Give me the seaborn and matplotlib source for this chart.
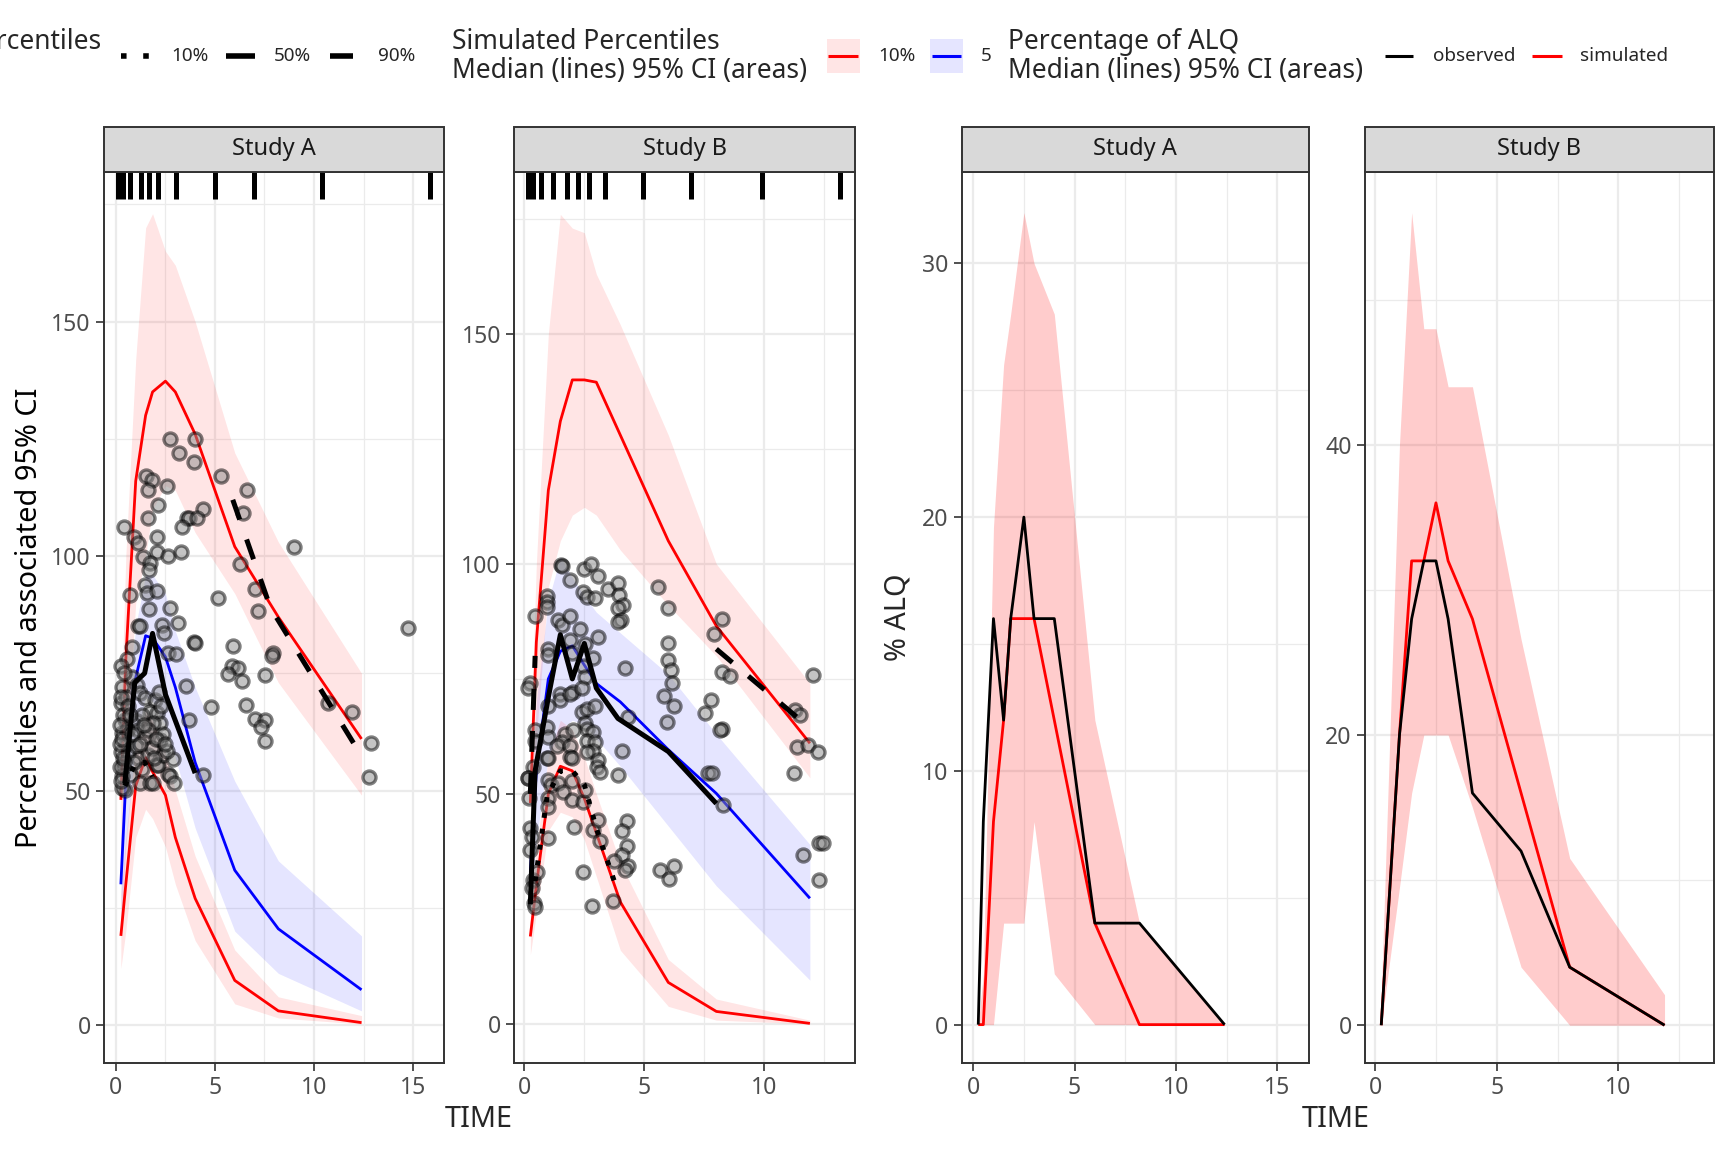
import numpy as np
import pandas as pd
import matplotlib
matplotlib.use("Agg")
import matplotlib.pyplot as plt
import seaborn as sns
from matplotlib.ticker import FixedLocator
from matplotlib.patches import Rectangle
from matplotlib.lines import Line2D

sns.set_theme(style="ticks")
plt.rcParams['font.family'] = ['Noto Sans', 'DejaVu Sans']

# ---------------- Study A : VPC ----------------
tA = [0.25, 0.5, 1.0, 1.5, 1.85, 2.5, 3.0, 4.0, 6.0, 8.2, 12.4]
A_p90_med = [48, 78, 116, 130, 135, 137.3, 135, 126, 102, 87, 61]
A_p90_lo = [30, 55, 90, 100, 110, 115, 114, 105, 92, 73, 49]
A_p90_hi = [65, 100, 142, 170, 173, 165, 162, 150, 122, 103, 75]
A_p50_med = [30, 52, 74, 83, 82.5, 78.5, 72, 56, 33, 20.5, 7.5]
A_p50_lo = [20, 38, 60, 70, 69, 64, 57, 42, 20, 11, 3]
A_p50_hi = [40, 62, 85, 96, 96, 92, 84, 72, 52, 35, 19]
A_p10_med = [19, 30, 51, 57, 54, 49, 40, 27, 9.5, 3, 0.5]
A_p10_lo = [12, 20, 40, 46, 44, 38, 30, 18, 4.5, 1.5, 0.2]
A_p10_hi = [28, 40, 60, 67, 65, 58, 50, 36, 16, 6, 2]

A_o10_x = [0.45, 0.95, 1.45, 1.85]
A_o10_y = [51, 55.5, 56, 53]
A_o50_x = [0.45, 0.95, 1.45, 1.85, 2.5, 4.0]
A_o50_y = [51.5, 73, 75, 83.5, 70.5, 53.7]
A_o90_x = [5.9, 7.8, 12.45]
A_o90_y = [112, 89, 57]

A_rug = [0.1, 0.37, 0.7, 1.25, 1.67, 2.14, 3.05, 5.02, 6.95, 10.4, 15.87]

A_obs_time = [2.73, 3.99, 3.2, 3.94, 1.51, 1.8, 1.63, 2.6, 5.29, 6.63, 2.1, 4.41, 3.57, 3.7, 4.08,
              3.35, 0.42, 6.43, 1.6, 0.93, 1.13, 2.09, 2.09, 2.61, 3.27, 1.38, 1.72, 1.68, 9.01, 6.26,
              1.46, 1.55, 2.09, 0.71, 7.02, 5.17, 1.68, 2.73, 7.16, 1.13, 1.21, 2.31, 2.44, 3.11, 3.96,
              3.99, 5.89, 7.95, 7.86, 0.83, 0.57, 0.25, 2.61, 3.03, 5.84, 6.18, 5.67, 6.35, 7.52, 3.54,
              0.79, 1.04, 1.21, 1.46, 1.97, 0.25, 4.8, 6.57, 10.72, 11.9, 1.72, 2.05, 2.22, 1.89, 3.7,
              0.45, 1.04, 1.13, 7.02, 7.52, 7.3, 7.52, 12.86, 14.75, 0.29, 1.46, 2.22,
              0.45, 0.29, 0.71, 1.21, 1.72, 1.89, 2.61, 2.73, 2.95, 4.41, 12.78, 2.05, 2.14, 1.1,
              0.6, 0.25, 1.6, 2.4, 2.9, 0.35, 1.3, 0.9, 1.8, 0.5, 1.0, 2.6,
              0.3, 0.35, 0.2, 0.4, 0.3, 0.5, 0.55, 1.6, 2.4, 2.0, 1.3, 2.3,
              0.2, 0.25, 0.3, 0.2, 0.35, 0.25, 0.4, 0.6, 0.7, 0.8, 1.2, 1.4, 1.9, 2.2, 2.5]
A_obs_conc = [125, 125, 122, 120.1, 117.1, 116.2, 114.1, 115, 117, 114.1, 110.9, 110, 108.1, 108.1, 108.1,
              106.1, 106.1, 109.1, 108.1, 104.1, 102.8, 104.1, 100.9, 100, 100.9, 99.8, 98.6, 97, 102, 98.2,
              93.8, 92.2, 92.6, 91.7, 92.9, 91, 88.7, 88.9, 88.2, 85.1, 85, 85.4, 83.5, 85.8, 81.7,
              81.5, 80.9, 79.3, 78.6, 80.5, 78, 76.6, 79.4, 79.1, 76.6, 76.2, 74.8, 73.3, 74.7, 72.3,
              74.3, 72.5, 70.7, 69.7, 69.3, 68.7, 67.8, 68.3, 68.7, 66.7, 66.8, 66.5, 64.3, 64.3, 65,
              65, 64.8, 62.9, 65.2, 65, 63.5, 60.5, 60.1, 84.6, 62.2, 61.5, 60.8,
              50.1, 50.5, 53.3, 51.7, 51.6, 51.6, 53.5, 53.1, 51.6, 53.3, 52.8, 55.4, 55.4, 57,
              58, 58.3, 57.5, 57.5, 56.8, 55, 54.5, 56, 59, 60, 59.5, 58.5,
              72, 66, 60, 56, 53, 70, 63, 63, 62, 61, 66, 68,
              64, 70, 61, 55, 57, 52, 75, 68, 66, 62, 60, 64, 57, 71, 60]

# ---------------- Study B : VPC ----------------
tB = [0.25, 0.5, 1.0, 1.5, 2.0, 2.5, 3.0, 4.0, 6.0, 8.0, 11.9]
B_p90_med = [48, 83, 116, 131, 140, 140, 139.5, 128, 105, 86.5, 61]
B_p90_lo = [35, 62, 95, 105, 110.6, 112.3, 110.6, 103, 91, 80, 53.5]
B_p90_hi = [60, 100, 150, 176, 173, 172, 163, 152, 128, 100, 74]
B_p50_med = [33, 55, 75, 81, 82.2, 78, 74, 70, 59.6, 50.1, 27.3]
B_p50_lo = [25, 40, 58, 64, 66, 65, 62, 56, 43, 30, 9.5]
B_p50_hi = [45, 70, 92, 101.5, 97, 93, 89.5, 85, 76, 63, 39]
B_p10_med = [19, 30, 50, 56, 55, 49, 41.5, 26.5, 9, 2.7, 0.1]
B_p10_lo = [15, 24, 42, 46, 45, 40, 32, 16, 3.8, 0.8, 0]
B_p10_hi = [24, 38, 58, 66, 64, 58, 50, 35, 14, 5.4, 0.8]

B_o10_x = [0.45, 0.95, 1.5, 2.0, 2.5, 3.0, 3.75]
B_o10_y = [31, 49.5, 55, 55, 52, 42.5, 31]
B_o50_x = [0.25, 0.45, 1.0, 1.5, 2.0, 2.5, 3.0, 3.9, 6.0, 8.0]
B_o50_y = [26, 55, 71, 84.6, 75, 82.7, 73, 66.4, 59.2, 47.9]
B_o90_x = [0.25, 0.45, np.nan, 8.0, 11.9]
B_o90_y = [50, 80, np.nan, 81.5, 64.3]

B_rug = [0.17, 0.35, 0.7, 1.21, 1.77, 2.22, 2.7, 3.36, 4.96, 6.96, 9.89, 13.15]

B_obs_time = [1.53, 1.56, 2.5, 2.78, 3.09, 0.93, 0.93, 0.93, 1.9, 2.46, 2.6, 2.95, 3.47, 3.89, 3.95,
              4.13, 3.92, 4.03, 3.92, 5.56, 5.97, 0.45, 1.42, 1.56, 1.9, 2.32, 3.08, 8.22, 7.92,
              1.0, 1.0, 1.9, 2.0, 2.53, 2.86, 2.46, 2.53, 4.2, 6.0, 6.0, 6.11, 6.14, 8.22, 8.57, 12.04,
              0.24, 0.17, 1.49, 1.49, 2.04, 1.9, 2.39, 5.83, 6.25, 7.78, 7.53, 2.39, 2.6, 2.95,
              1.0, 0.93, 5.93, 4.31, 8.22, 8.15, 11.28, 11.49, 2.53, 2.6, 2.88, 0.45, 0.45, 1.0,
              1.7, 2.04, 1.56, 1.35, 1.9, 2.6, 2.95, 2.88, 2.6, 4.06, 7.67, 7.81, 11.35, 11.83, 12.25,
              11.25, 0.93, 1.0, 1.9, 2.0, 3.08, 3.01, 3.92, 0.38, 0.17, 3.15,
              0.17, 0.2, 0.22, 0.3, 0.25, 0.35, 0.3, 0.4, 0.45, 1.0, 1.13, 1.0, 1.0, 1.42, 1.63, 1.97,
              1.97, 2.46, 2.53, 1.0, 0.52, 2.08, 2.88, 3.08, 3.15, 4.26, 4.06, 4.26, 4.06, 3.75, 4.34,
              4.2, 2.46, 2.83, 3.71, 5.65, 6.25, 6.03, 8.29, 12.28, 12.46, 11.63, 12.28]
B_obs_conc = [99.8, 99.5, 98.8, 100, 97.4, 93, 91.8, 90.7, 96.4, 93.8, 92.8, 92.5, 94.6, 95.8, 93.3,
              91.1, 90.4, 87.8, 87.4, 94.9, 90.4, 88.6, 87.8, 86.7, 88.7, 85.8, 84, 88, 84.8,
              81.6, 80.1, 83.5, 80.6, 82.6, 79.5, 77.7, 75.5, 77.3, 82.7, 79, 77, 74.2, 76.6, 75.7, 75.9,
              74, 73, 71.8, 70.4, 72.2, 71.8, 73, 71.2, 69, 70.4, 67.5, 67.7, 68.4, 69,
              69, 64.6, 65.7, 66.8, 64.2, 63.8, 68.2, 67.1, 65.3, 64.2, 63.5, 63.8, 61.6, 62.4,
              63.1, 63.8, 61.3, 60.4, 60.4, 61.6, 61.2, 59.4, 59.1, 59.4, 54.6, 54.6, 60.2, 60.7, 59,
              54.6, 57.7, 57.7, 58.1, 57.7, 57.4, 55.9, 54.1, 55.9, 53.4, 54.7,
              53.4, 49, 42.5, 40.7, 37.8, 31.3, 29.5, 26.2, 25.5, 53, 51.9, 49, 47.2, 52.3, 50.5, 52.7,
              48.7, 48.3, 50.9, 40.4, 33.1, 42.9, 42.2, 44.3, 39.7, 44.1, 42, 38.7, 36.7, 35.3, 34.3,
              33.5, 33.1, 25.7, 26.7, 33.5, 34.3, 31.5, 47.6, 39.3, 39.4, 36.7, 31.2]

# ---------------- % ALQ ----------------
tA_alq = [0.25, 0.5, 1.0, 1.5, 1.85, 2.5, 3.0, 4.0, 6.0, 8.2, 12.4]
A_alq_obs = [0, 8, 16, 12, 16, 20, 16, 16, 4, 4, 0]
A_alq_sim = [0, 0, 8, 12, 16, 16, 16, 12, 4, 0, 0]
A_alq_lo = [0, 0, 0, 4, 4, 4, 8, 2, 0, 0, 0]
A_alq_hi = [0, 2, 19.6, 26, 28, 32, 30, 28, 12, 4, 0]

tB_alq = [0.25, 1.0, 1.5, 2.0, 2.5, 3.0, 4.0, 6.0, 8.0, 11.9]
B_alq_obs = [0, 20, 28, 32, 32, 28, 16, 12, 4, 0]
B_alq_sim = [0, 20, 32, 32, 36, 32, 28, 16, 4, 0]
B_alq_lo = [0, 9.5, 16, 20, 20, 20, 15, 4, 0, 0]
B_alq_hi = [2, 40, 56, 48, 48, 44, 44, 26.6, 11.5, 2.1]

studies = ["Study A", "Study B"]

RED = "#FF0000"
BLUE = "#0000FF"
GRID = "#EBEBEB"
DARK = "#333333"

fig = plt.figure(figsize=(8.64, 5.76), dpi=200)
fig.patch.set_facecolor("white")

bottom, height = 0.0773, 0.7734
ax1 = fig.add_axes([0.0602, bottom, 0.1967, height])
ax2 = fig.add_axes([0.2976, bottom, 0.1972, height])
ax3 = fig.add_axes([0.5565, bottom, 0.2010, height])
ax4 = fig.add_axes([0.7899, bottom, 0.2018, height])

strip_h = 0.0508


def style(ax, xlim, ylim, xmaj, xmin, ymaj, ymin, title):
    ax.set_xlim(*xlim)
    ax.set_ylim(*ylim)
    ax.xaxis.set_major_locator(FixedLocator(xmaj))
    ax.xaxis.set_minor_locator(FixedLocator(xmin))
    ax.yaxis.set_major_locator(FixedLocator(ymaj))
    ax.yaxis.set_minor_locator(FixedLocator(ymin))
    ax.grid(which="major", color=GRID, lw=0.8)
    ax.grid(which="minor", color=GRID, lw=0.45)
    ax.set_axisbelow(True)
    ax.tick_params(which="major", bottom=True, left=True, length=2.75, width=0.6,
                   color=DARK, labelsize=8.3, labelcolor="#4D4D4D", pad=2)
    ax.tick_params(which="minor", length=0)
    for s in ax.spines.values():
        s.set_color(DARK)
        s.set_linewidth(0.7)
        s.set_visible(True)
    ax.set_xlabel("")
    ax.set_ylabel("")
    ax.add_patch(Rectangle((0, 1), 1, strip_h, transform=ax.transAxes, clip_on=False,
                           fc="#D9D9D9", ec=DARK, lw=0.7, zorder=5))
    ax.text(0.5, 1 + strip_h / 2, title, transform=ax.transAxes, ha="center", va="center",
            fontsize=8.5, color="#1A1A1A", zorder=6)


def ribbon(ax, t, lo, hi, color, alpha):
    ax.fill_between(t, lo, hi, color=color, alpha=alpha, lw=0, zorder=1)


def line(ax, x, y, color, lw, ls="-", z=3):
    df = pd.DataFrame({"x": x, "y": y}).dropna()
    sns.lineplot(data=df, x="x", y="y", ax=ax, color=color, lw=lw, linestyle=ls,
                 estimator=None, sort=False, zorder=z, solid_capstyle="butt",
                 dash_capstyle="butt")


def vpc(ax, t, p90, p90lo, p90hi, p50, p50lo, p50hi, p10, p10lo, p10hi,
        ox, oy, o10x, o10y, o50x, o50y, o90x, o90y, rug):
    ribbon(ax, t, p90lo, p90hi, RED, 0.1)
    ribbon(ax, t, p50lo, p50hi, BLUE, 0.1)
    ribbon(ax, t, p10lo, p10hi, RED, 0.1)
    line(ax, t, p90, RED, 1.0)
    line(ax, t, p50, BLUE, 1.0)
    line(ax, t, p10, RED, 1.0)
    sns.scatterplot(x=ox, y=oy, ax=ax, s=22, color="#8a8a8a", edgecolor="#000000",
                    linewidth=1.2, alpha=0.5, zorder=4)
    line(ax, o10x, o10y, "black", 1.8, (0, (1, 2.2)), z=5)
    line(ax, o50x, o50y, "black", 1.8, "-", z=5)
    # observed 90th percentile has missing bins -> separate segments
    x90 = np.array(o90x, dtype=float)
    y90 = np.array(o90y, dtype=float)
    seg = np.cumsum(np.isnan(x90))
    for k in np.unique(seg):
        m = (seg == k) & ~np.isnan(x90)
        if m.sum() > 1:
            line(ax, x90[m], y90[m], "black", 1.8, (0, (4.2, 4.2)), z=5)
    ax.vlines(rug, 0.97, 1.0, transform=ax.get_xaxis_transform(), color="black",
              lw=1.8, zorder=5)


vpc(ax1, tA, A_p90_med, A_p90_lo, A_p90_hi, A_p50_med, A_p50_lo, A_p50_hi,
    A_p10_med, A_p10_lo, A_p10_hi, A_obs_time, A_obs_conc,
    A_o10_x, A_o10_y, A_o50_x, A_o50_y, A_o90_x, A_o90_y, A_rug)
vpc(ax2, tB, B_p90_med, B_p90_lo, B_p90_hi, B_p50_med, B_p50_lo, B_p50_hi,
    B_p10_med, B_p10_lo, B_p10_hi, B_obs_time, B_obs_conc,
    B_o10_x, B_o10_y, B_o50_x, B_o50_y, B_o90_x, B_o90_y, B_rug)

for ax, t, obs, sim, lo, hi in [(ax3, tA_alq, A_alq_obs, A_alq_sim, A_alq_lo, A_alq_hi),
                                (ax4, tB_alq, B_alq_obs, B_alq_sim, B_alq_lo, B_alq_hi)]:
    ribbon(ax, t, lo, hi, RED, 0.2)
    line(ax, t, sim, RED, 1.0)
    line(ax, t, obs, "black", 1.0, z=4)

style(ax1, (-0.6, 16.56), (-8.1, 181.9), [0, 5, 10, 15], [2.5, 7.5, 12.5],
      [0, 50, 100, 150], [25, 75, 125, 175], studies[0])
style(ax2, (-0.42, 13.78), (-8.5, 185.2), [0, 5, 10], [2.5, 7.5, 12.5],
      [0, 50, 100, 150], [25, 75, 125, 175], studies[1])
style(ax3, (-0.57, 16.56), (-1.51, 33.6), [0, 5, 10, 15], [2.5, 7.5, 12.5],
      [0, 10, 20, 30], [5, 15, 25], studies[0])
style(ax4, (-0.42, 13.92), (-2.6, 58.8), [0, 5, 10], [2.5, 7.5, 12.5],
      [0, 20, 40], [10, 30, 50], studies[1])

# axis titles
fig.text(0.017, 0.464, "Percentiles and associated 95% CI", rotation=90, ha="center",
         va="center", fontsize=10.4, color="black")
fig.text(0.5197, 0.464, "% ALQ", rotation=90, ha="center", va="center", fontsize=10.4)
fig.text(0.277, 0.028, "TIME", ha="center", va="center", fontsize=10.4)
fig.text(0.773, 0.028, "TIME", ha="center", va="center", fontsize=10.4)

# ---------------- legends (top) ----------------
ky = 0.9515
t1, t2 = 0.9635, 0.9385
TS, LS = 9.5, 6.8


def fline(x0, x1, y, color, lw, ls="-"):
    fig.add_artist(Line2D([x0, x1], [y, y], transform=fig.transFigure, color=color, lw=lw,
                          linestyle=ls, solid_capstyle="butt", dash_capstyle="butt"))


fig.text(0.0584, t1, "Observed Percentiles", ha="right", va="center", fontsize=TS)
fline(0.0700, 0.0862, ky, "black", 2.0, (0, (1, 3)))
fig.text(0.0990, ky, "10%", ha="left", va="center", fontsize=LS)
fline(0.1308, 0.1473, ky, "black", 2.0)
fig.text(0.1586, ky, "50%", ha="left", va="center", fontsize=LS)
fline(0.1907, 0.2040, ky, "black", 2.0)
fig.text(0.2188, ky, "90%", ha="left", va="center", fontsize=LS)

fig.text(0.2616, t1, "Simulated Percentiles", ha="left", va="center", fontsize=TS)
fig.text(0.2616, t2, "Median (lines) 95% CI (areas)", ha="left", va="center", fontsize=TS)
fig.add_artist(Rectangle((0.4783, 0.9365), 0.0192, 0.0296, transform=fig.transFigure,
                         fc=RED, alpha=0.1, lw=0))
fline(0.4792, 0.4965, ky, RED, 1.1)
fig.text(0.5080, ky, "10%", ha="left", va="center", fontsize=LS)
fig.add_artist(Rectangle((0.5382, 0.9365), 0.0191, 0.0296, transform=fig.transFigure,
                         fc=BLUE, alpha=0.1, lw=0))
fline(0.5391, 0.5564, ky, BLUE, 1.1)
fig.text(0.5677, ky, "5", ha="left", va="center", fontsize=LS)

fig.text(0.5833, t1, "Percentage of ALQ", ha="left", va="center", fontsize=TS)
fig.text(0.5833, t2, "Median (lines) 95% CI (areas)", ha="left", va="center", fontsize=TS)
fline(0.8013, 0.8177, ky, "black", 1.1)
fig.text(0.8290, ky, "observed", ha="left", va="center", fontsize=LS)
fline(0.8865, 0.9039, ky, RED, 1.1)
fig.text(0.9144, ky, "simulated", ha="left", va="center", fontsize=LS)

fig.savefig("out.png", dpi=200, facecolor="white")
